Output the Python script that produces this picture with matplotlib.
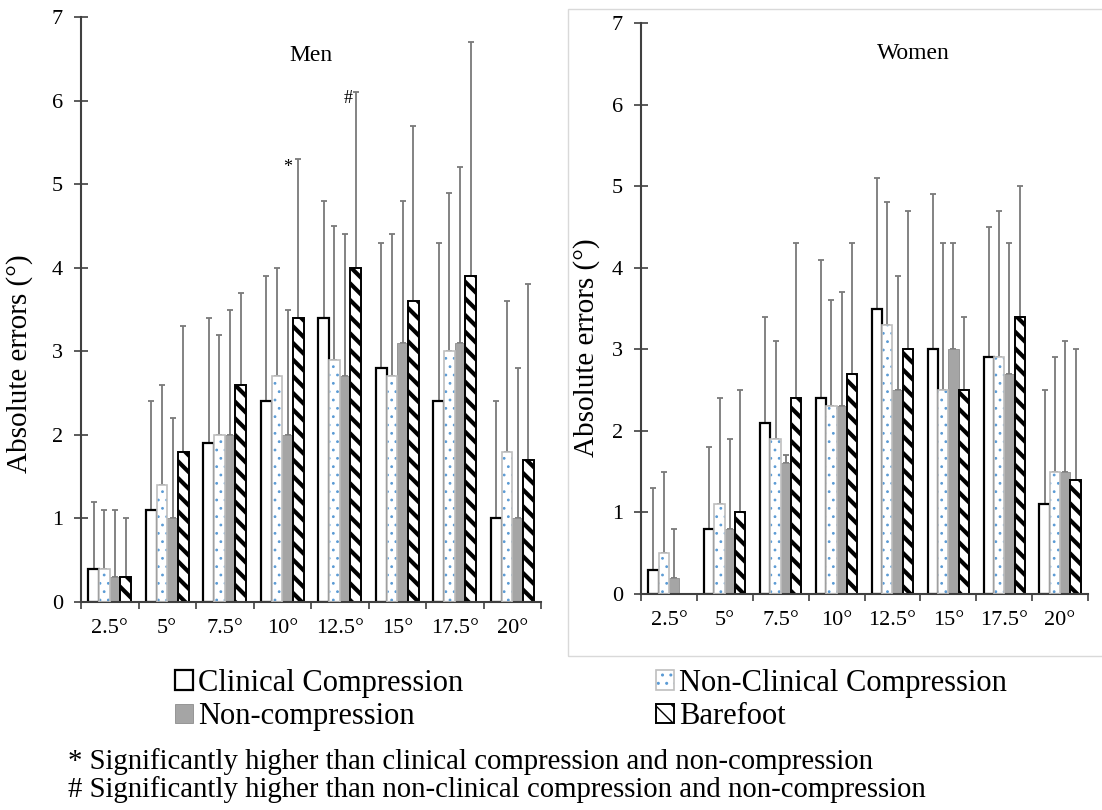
import matplotlib
matplotlib.use("Agg")
import matplotlib.pyplot as plt
import numpy as np
from matplotlib.patches import Rectangle
from matplotlib.legend_handler import HandlerTuple

plt.rcParams['font.family'] = ['Liberation Serif', 'DejaVu Serif']

angles = ['2.5°', '5°', '7.5°', '10°', '12.5°', '15°', '17.5°', '20°']
groups = ['Clinical Compression', 'Non-Clinical Compression', 'Non-compression', 'Barefoot']

# Men: means and top of error bar
men_clin = [0.4, 1.1, 1.9, 2.4, 3.4, 2.8, 2.4, 1.0]
men_clin_top = [1.2, 2.4, 3.4, 3.9, 4.8, 4.3, 4.3, 2.4]
men_nonclin = [0.4, 1.4, 2.0, 2.7, 2.9, 2.7, 3.0, 1.8]
men_nonclin_top = [1.1, 2.6, 3.2, 4.0, 4.5, 4.4, 4.9, 3.6]
men_noncomp = [0.3, 1.0, 2.0, 2.0, 2.7, 3.1, 3.1, 1.0]
men_noncomp_top = [1.1, 2.2, 3.5, 3.5, 4.4, 4.8, 5.2, 2.8]
men_bare = [0.3, 1.8, 2.6, 3.4, 4.0, 3.6, 3.9, 1.7]
men_bare_top = [1.0, 3.3, 3.7, 5.3, 6.1, 5.7, 6.7, 3.8]

# Women
wom_clin = [0.3, 0.8, 2.1, 2.4, 3.5, 3.0, 2.9, 1.1]
wom_clin_top = [1.3, 1.8, 3.4, 4.1, 5.1, 4.9, 4.5, 2.5]
wom_nonclin = [0.5, 1.1, 1.9, 2.3, 3.3, 2.5, 2.9, 1.5]
wom_nonclin_top = [1.5, 2.4, 3.1, 3.6, 4.8, 4.3, 4.7, 2.9]
wom_noncomp = [0.2, 0.8, 1.6, 2.3, 2.5, 3.0, 2.7, 1.5]
wom_noncomp_top = [0.8, 1.9, 1.7, 3.7, 3.9, 4.3, 4.3, 3.1]
wom_bare = [np.nan, 1.0, 2.4, 2.7, 3.0, 2.5, 3.4, 1.4]
wom_bare_top = [np.nan, 2.5, 4.3, 4.3, 4.7, 3.4, 5.0, 3.0]

# significance marks (Men, barefoot): category index, label, y
sig_idx = [3, 4]
sig_txt = ['*', '#']
sig_y = [5.2, 6.02]

W = 0.185
offs = np.array([-1.5, -0.5, 0.5, 1.5]) * W
ERRC = '#7a7a7a'


def draw_panel(ax, series, tops):
    x = np.arange(len(angles))
    handles = []
    for i, (vals, top) in enumerate(zip(series, tops)):
        vals = np.array(vals, dtype=float)
        err = np.array(top, dtype=float) - vals
        xs = x + offs[i]
        if i == 0:
            b = ax.bar(xs, vals, W, facecolor='white', edgecolor='black', linewidth=1.6, zorder=2)
            h = b
        elif i == 1:
            with plt.rc_context({'hatch.linewidth': 0.8}):
                b1 = ax.bar(xs, vals, W, facecolor='white', edgecolor='#5b9bd5', linewidth=0,
                            hatch='..', zorder=2)
            b = ax.bar(xs, vals, W, fill=False, edgecolor='#bfbfbf', linewidth=1.2, zorder=3)
            h = (b1, b)
        elif i == 2:
            b = ax.bar(xs, vals, W, facecolor='#a5a5a5', edgecolor='#8c8c8c', linewidth=0.6, zorder=2)
            h = b
        else:
            with plt.rc_context({'hatch.linewidth': 3.0}):
                b = ax.bar(xs, vals, W, facecolor='white', edgecolor='black', linewidth=1.4,
                           hatch='\\\\', zorder=2)
            h = b
        handles.append(h)
        ax.errorbar(xs, vals, yerr=[np.zeros_like(err), err], fmt='none', ecolor=ERRC,
                    elinewidth=1.3, capsize=2.3, capthick=1.3, zorder=1)

    ax.set_xlim(-0.5, len(angles) - 0.5)
    ax.set_ylim(0, 7)
    ax.set_yticks(range(0, 8))
    ax.set_xticks(np.arange(-0.5, len(angles)))
    ax.set_xticklabels([])
    ax.set_xticks(x, minor=True)
    ax.set_xticklabels(angles, minor=True, fontsize=16)
    ax.tick_params(axis='x', which='major', direction='out', length=5, width=1.2, color='#404040')
    ax.tick_params(axis='x', which='minor', length=0, pad=12)
    ax.tick_params(axis='y', direction='inout', length=10, width=1.2, color='#404040',
                   labelsize=16, pad=8)
    for s in ['top', 'right']:
        ax.spines[s].set_visible(False)
    for s in ['left', 'bottom']:
        ax.spines[s].set_linewidth(1.5)
        ax.spines[s].set_color('#404040')
    ax.set_ylabel('Absolute errors (°)', fontsize=21)
    return handles


fig = plt.figure(figsize=(11.02, 8.10), dpi=100)

# light frame around the Women panel
fig.patches.append(Rectangle((568 / 1102, 1 - 656 / 810), 540 / 1102, 647 / 810,
                             transform=fig.transFigure, fill=False, edgecolor='#d9d9d9',
                             linewidth=1.0))

ax1 = fig.add_axes([81 / 1102, 1 - 602 / 810, 460 / 1102, 585 / 810])
ax2 = fig.add_axes([641 / 1102, 1 - 594 / 810, 447 / 1102, 571 / 810])

hs = draw_panel(ax1, [men_clin, men_nonclin, men_noncomp, men_bare],
                [men_clin_top, men_nonclin_top, men_noncomp_top, men_bare_top])
draw_panel(ax2, [wom_clin, wom_nonclin, wom_noncomp, wom_bare],
           [wom_clin_top, wom_nonclin_top, wom_noncomp_top, wom_bare_top])

ax1.yaxis.set_label_coords(-0.104, 0.407)
ax2.yaxis.set_label_coords(-0.092, 0.431)

ax1.text(0.5, 0.935, 'Men', transform=ax1.transAxes, ha='center', va='center', fontsize=17)
ax2.text(0.61, 0.946, 'Women', transform=ax2.transAxes, ha='center', va='center', fontsize=17)

sig_dx = [0.1, 0.06]
for i, t, y, dx in zip(sig_idx, sig_txt, sig_y, sig_dx):
    ax1.text(i + offs[3] - dx, y, t, ha='right', va='center', fontsize=13)

leg = fig.legend([hs[0], hs[2], hs[1], hs[3]],
                 [groups[0], groups[2], groups[1], groups[3]],
                 handler_map={tuple: HandlerTuple(ndivide=1)},
                 ncol=2, loc='center left', bbox_to_anchor=(175 / 1102, 1 - 700 / 810),
                 frameon=False, fontsize=22, handlelength=0.59, handleheight=0.59,
                 handletextpad=0.16, columnspacing=6.3, labelspacing=0.14, borderpad=0,
                 borderaxespad=0)

fig.text(68 / 1102, 1 - 762 / 810, '* Significantly higher than clinical compression and non-compression',
         fontsize=20.7, ha='left', va='center')
fig.text(68 / 1102, 1 - 790 / 810, '# Significantly higher than non-clinical compression and non-compression',
         fontsize=20.7, ha='left', va='center')

fig.savefig('out.png', dpi=100)
